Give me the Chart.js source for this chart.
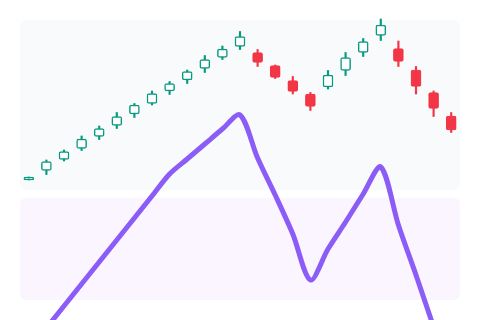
<!DOCTYPE html>
<html>
<head>
<meta charset="utf-8">
<script src="https://cdn.jsdelivr.net/npm/chart.js@4"></script>
<style>
    html, body { margin: 0; padding: 0; background: #ffffff; }
    #wrap { width: 480px; height: 320px; }
</style>
</head>
<body>
<div id="wrap"><canvas id="price_chart" width="480" height="320"></canvas></div>
<script>
// candles: open / high / low / close
const labels = ['1', '2', '3', '4', '5', '6', '7', '8', '9', '10', '11', '12', '13',
    '14', '15', '16', '17', '18', '19', '20', '21', '22', '23', '24', '25'];
const openValues  = [92.0, 93.9, 96.1, 98.3, 100.7, 102.9, 105.2, 107.3, 109.8, 112.0, 114.3, 116.5, 118.7,
    117.5, 114.9, 111.9, 109.2, 110.6, 113.9, 117.5, 120.9, 118.3, 114.0, 109.5, 104.8];
const highValues  = [92.6, 96.0, 98.0, 100.8, 102.8, 105.5, 107.3, 109.8, 111.7, 114.0, 116.9, 118.8, 121.7,
    118.1, 115.0, 112.7, 109.5, 113.9, 117.5, 120.3, 124.2, 119.8, 114.7, 109.8, 105.5];
const lowValues   = [92.0, 93.1, 95.8, 97.9, 100.1, 102.3, 104.5, 107.0, 109.1, 111.3, 113.5, 116.1, 118.1,
    114.7, 112.3, 109.2, 105.9, 110.2, 112.9, 116.7, 119.9, 114.7, 109.2, 104.7, 101.5];
const closeValues = [92.6, 95.7, 97.7, 100.2, 102.3, 104.7, 107.0, 109.3, 111.3, 113.7, 116.1, 118.2, 120.7,
    115.5, 112.5, 109.7, 106.7, 113.0, 116.5, 119.7, 123.0, 115.7, 110.7, 106.3, 102.0];

// indicator line (own axis)
const lineValues = [-50, -28, -6, 16, 38, 60, 82, 104, 126, 141, 156, 171, 185,
    142, 105, 66, 20, 51, 78, 106, 133, 75, 25, -27, -78];

const upColor = '#089981';
const downColor = '#f23645';

const isUp = openValues.map((o, i) => closeValues[i] >= o);
const bodyData = openValues.map((o, i) => [o, closeValues[i]]);
const wickData = lowValues.map((l, i) => [l, highValues[i]]);

// panel backgrounds, given in axis values
const panels = [
    { axis: 'y', from: 124, to: 90, color: '#f8fafc' },
    { axis: 'y2', from: 102, to: 0, color: '#faf5ff' }
];

const panelPlugin = {
    id: 'panels',
    beforeDatasetsDraw(chart) {
        const ctx = chart.ctx;
        const area = chart.chartArea;
        ctx.save();
        panels.forEach(p => {
            const scale = chart.scales[p.axis];
            const top = scale.getPixelForValue(p.from);
            const bottom = scale.getPixelForValue(p.to);
            ctx.fillStyle = p.color;
            ctx.beginPath();
            ctx.roundRect(area.left, top, area.right - area.left, bottom - top, 6);
            ctx.fill();
        });
        ctx.restore();
    }
};

const ctx = document.getElementById('price_chart').getContext('2d');
const priceChart = new Chart(ctx, {
    type: 'bar',
    data: {
        labels: labels,
        datasets: [
            {
                type: 'line',
                label: 'line',
                data: lineValues,
                yAxisID: 'y2',
                borderColor: '#8b5cf6',
                borderWidth: 5,
                pointRadius: 0,
                tension: 0.3,
                fill: false,
                clip: false
            },
            {
                label: 'body',
                data: bodyData,
                yAxisID: 'y',
                grouped: false,
                barThickness: 10,
                borderWidth: 1.5,
                borderRadius: 2,
                borderSkipped: false,
                borderColor: isUp.map(u => u ? upColor : downColor),
                backgroundColor: isUp.map(u => u ? '#ffffff' : downColor)
            },
            {
                label: 'wick',
                data: wickData,
                yAxisID: 'y',
                grouped: false,
                barThickness: 1.5,
                borderWidth: 0,
                backgroundColor: isUp.map(u => u ? upColor : downColor)
            }
        ]
    },
    options: {
        responsive: false,
        animation: false,
        devicePixelRatio: 1,
        layout: {
            padding: { left: 20, right: 20, top: 0, bottom: 0 }
        },
        plugins: {
            legend: { display: false },
            tooltip: { enabled: false }
        },
        scales: {
            x: {
                display: false,
                offset: true,
                grid: { display: false }
            },
            y: {
                display: false,
                min: 64,
                max: 128
            },
            y2: {
                display: false,
                min: -20,
                max: 300
            }
        }
    },
    plugins: [panelPlugin]
});
</script>
</body>
</html>
